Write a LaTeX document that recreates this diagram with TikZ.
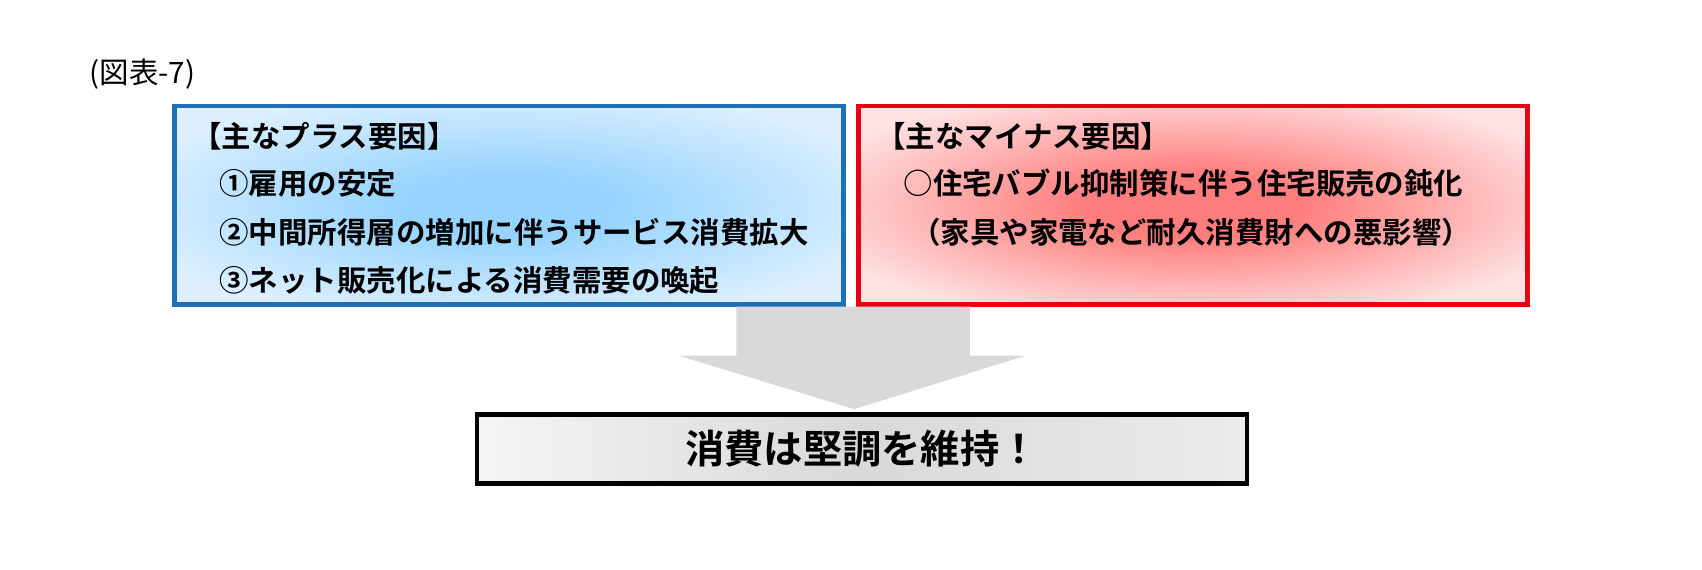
\documentclass[tikz,border=0pt]{standalone}
\usepackage{fontspec}
\setmainfont{Noto Sans CJK JP}
\newfontfamily\jpb{Noto Sans CJK JP Bold}
\definecolor{bborder}{HTML}{1F6FB5}
\definecolor{rborder}{HTML}{E60012}
\definecolor{bin}{RGB}{150,212,255}
\definecolor{bout}{RGB}{222,240,255}
\definecolor{rin}{RGB}{255,125,125}
\definecolor{rout}{RGB}{255,226,226}
\pgfdeclareradialshading{bshade}{\pgfpoint{0bp}{0bp}}{color(0bp)=(bin);color(8bp)=(bin);color(30bp)=(bout);color(50bp)=(bout)}
\pgfdeclareradialshading{rshade}{\pgfpoint{0bp}{0bp}}{color(0bp)=(rin);color(8bp)=(rin);color(30bp)=(rout);color(50bp)=(rout)}
\begin{document}
\begin{tikzpicture}[x=1pt,y=-1pt,
  txt/.style={anchor=west,inner sep=0,font=\jpb\fontsize{27}{27}\selectfont},
  boxb/.style={draw=bborder,line width=4pt,shading=bshade},
  boxr/.style={draw=rborder,line width=4pt,shading=rshade}]
\useasboundingbox (0,0) rectangle (1560,522);
\node[anchor=west,inner sep=0,font=\fontsize{27}{27}\selectfont] (title) at (82,68) {(図表-7)};
\path[boxb] (160,97) rectangle (773,279);
\path[boxr] (787,97) rectangle (1400,279);
\node[txt] (p0) at (176,125) {【主なプラス要因】};
\node[txt] (p1) at (201,168) {①雇用の安定};
\node[txt] (p2) at (201,213) {②中間所得層の増加に伴うサービス消費拡大};
\node[txt] (p3) at (201,257) {③ネット販売化による消費需要の喚起};
\node[txt] (m0) at (803,125) {【主なマイナス要因】};
\node[txt] (m1) at (828,168) {○住宅バブル抑制策に伴う住宅販売の鈍化};
\node[txt] (m2) at (835,213) {（家具や家電など耐久消費財への悪影響）};
\fill[gray!30] (675,281) -- (889,281) -- (889,326) -- (940,326) -- (783,375) -- (622,326) -- (675,326) -- cycle;
\node[draw=black,line width=4pt,minimum width=706pt,minimum height=63pt,inner sep=0,
  left color=gray!8,right color=gray!15,middle color=gray!30,
  font=\jpb\fontsize{36}{36}\selectfont] (res) at (790,411.5) {消費は堅調を維持！};
\end{tikzpicture}
\end{document}
